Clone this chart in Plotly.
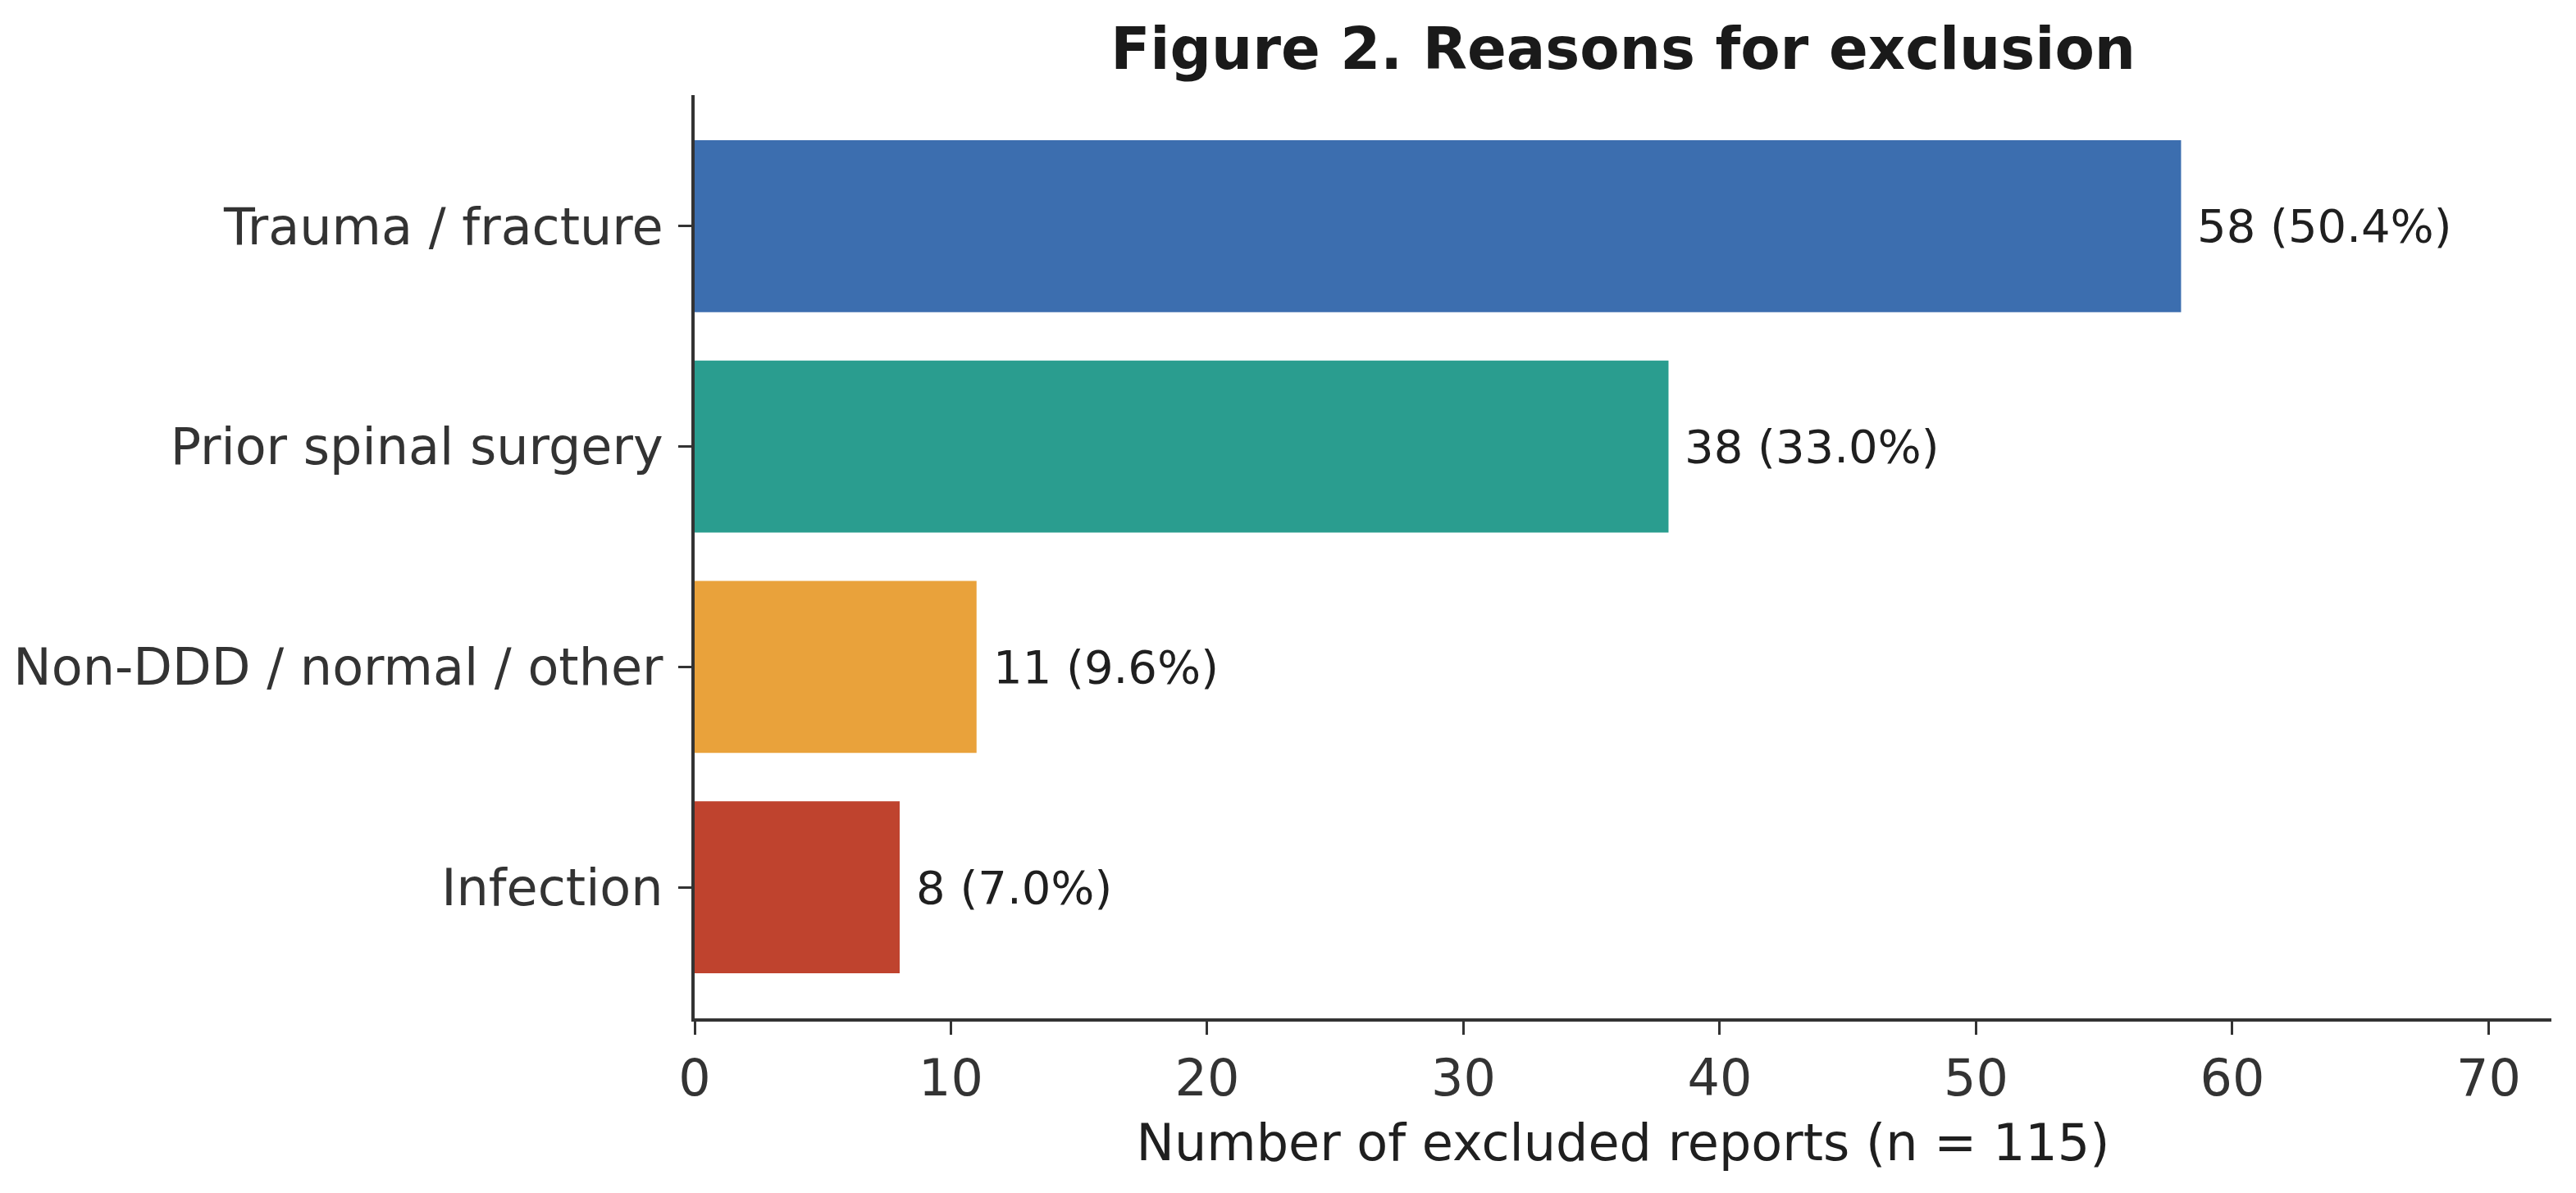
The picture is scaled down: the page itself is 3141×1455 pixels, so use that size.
import plotly.graph_objects as go

categories = ["Trauma / fracture", "Prior spinal surgery", "Non-DDD / normal / other", "Infection"]
counts = [58, 38, 11, 8]
percents = [50.4, 33.0, 9.6, 7.0]
colors = ["#3C6EAF", "#2A9D8F", "#E9A23B", "#BF432E"]
x_ticks = [0, 10, 20, 30, 40, 50, 60, 70]

title_text = "Figure 2. Reasons for exclusion"
x_title = "Number of excluded reports (n = 115)"

FONT = "DejaVu Sans"
AXIS_COLOR = "#333333"

# draw bottom to top so Trauma ends up at top
cats_rev = categories[::-1]
counts_rev = counts[::-1]
colors_rev = colors[::-1]
pct_rev = percents[::-1]

fig = go.Figure()
fig.add_trace(go.Bar(
    x=counts_rev,
    y=cats_rev,
    orientation="h",
    marker=dict(color=colors_rev, line=dict(width=0)),
    width=0.78,
    hoverinfo="skip",
))

for c, v, p in zip(cats_rev, counts_rev, pct_rev):
    fig.add_annotation(
        x=v, y=c, xref="x", yref="y",
        text=f"{v} ({p:.1f}%)",
        showarrow=False,
        xanchor="left", yanchor="middle",
        xshift=18,
        font=dict(family=FONT, size=56, color="#1f1f1f"),
    )

fig.update_layout(
    width=3141, height=1455,
    margin=dict(l=847, r=30, t=116, b=213),
    paper_bgcolor="white",
    plot_bgcolor="white",
    showlegend=False,
    title=dict(
        text=title_text,
        x=0.6301, xanchor="center",
        y=1 - 59 / 1455, yanchor="middle",
        font=dict(family=FONT, size=70.5, color="#1a1a1a", weight="bold"),
    ),
    font=dict(family=FONT, color=AXIS_COLOR),
)

fig.update_xaxes(
    range=[0, 72.45],
    tickmode="array",
    tickvals=x_ticks,
    ticktext=[str(t) for t in x_ticks],
    showgrid=False,
    zeroline=False,
    showline=True,
    linecolor=AXIS_COLOR,
    linewidth=4,
    ticks="outside",
    ticklen=16,
    tickwidth=3,
    tickcolor=AXIS_COLOR,
    tickfont=dict(family=FONT, size=62, color=AXIS_COLOR),
    title=dict(text=x_title, font=dict(family=FONT, size=62, color="#1f1f1f"), standoff=22),
)

fig.update_yaxes(
    type="category",
    categoryorder="array",
    categoryarray=cats_rev,
    range=[-0.595, 3.595],
    showgrid=False,
    zeroline=False,
    showline=True,
    linecolor=AXIS_COLOR,
    linewidth=4,
    ticks="outside",
    ticklen=16,
    tickwidth=3,
    tickcolor=AXIS_COLOR,
    tickfont=dict(family=FONT, size=62, color=AXIS_COLOR),
    ticklabelstandoff=6,
)

fig.write_html("out.html")
